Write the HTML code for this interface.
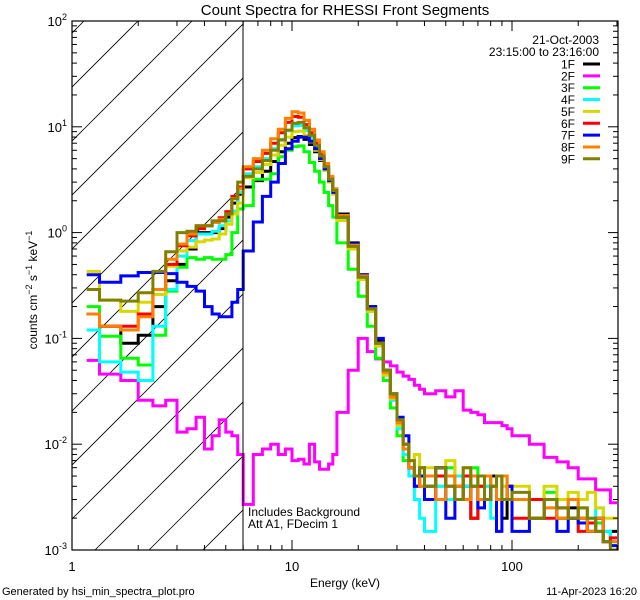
<!DOCTYPE html>
<html><head><meta charset="utf-8">
<style>
html,body{margin:0;padding:0;background:#fff;}
svg{display:block;font-family:"Liberation Sans",sans-serif;}
</style></head>
<body>
<svg id="chart" width="640" height="600" viewBox="0 0 640 600" xmlns="http://www.w3.org/2000/svg">
<defs><clipPath id="plotclip"><rect x="72" y="21" width="546" height="529"/></clipPath>
<clipPath id="hatchclip"><rect x="72" y="21" width="171" height="529"/></clipPath></defs>
<rect x="0" y="0" width="640" height="600" fill="#fff"/>
<text x="345" y="15" font-size="15" text-anchor="middle">Count Spectra for RHESSI Front Segments</text>
<g id="hatch" clip-path="url(#hatchclip)"></g>
<g id="series" clip-path="url(#plotclip)"></g>
<line x1="243" y1="21" x2="243" y2="550" stroke="#000" stroke-width="1"/>
<rect x="72" y="21" width="546" height="529" fill="none" stroke="#000" stroke-width="1.2"/>
<g id="ticks"></g>
<text x="248" y="516" font-size="12">Includes Background</text>
<text x="248" y="528" font-size="12">Att A1, FDecim 1</text>
<text x="345" y="587" font-size="12" text-anchor="middle">Energy (keV)</text>
<text transform="translate(37,290) rotate(-90)" font-size="12" text-anchor="middle">counts cm<tspan dy="-5" font-size="9">−2</tspan><tspan dy="5"> s</tspan><tspan dy="-5" font-size="9">−1</tspan><tspan dy="5"> keV</tspan><tspan dy="-5" font-size="9">−1</tspan></text>
<text x="2" y="595" font-size="11">Generated by hsi_min_spectra_plot.pro</text>
<text x="637" y="595" font-size="11" text-anchor="end">11-Apr-2023 16:20</text>
<text x="599" y="44" font-size="12" text-anchor="end">21-Oct-2003</text>
<text x="599" y="56" font-size="12" text-anchor="end">23:15:00 to 23:16:00</text>
<g id="legend"></g>
</svg>
<script>
const edges = [1,1.333,1.667,2,2.333,2.667,3,3.333,3.667,4,4.333,4.667,5,5.333,5.667,6,
6.667,7.333,8,8.667,9.333,10,10.667,11.333,12,12.667,13.333,14,14.667,15.333,16,
18,20,22,24,26,28,30,32,34,36,38,40,
45,50,55,60,65,70,75,80,85,90,95,100,
120,140,160,180,200,220,240,260,280,300];
const seriesNames = ["1F","2F","3F","4F","5F","6F","7F","8F","9F"];
const s1F = [0.17,0.13,0.09,0.107,0.20,0.35,0.50,0.70,1.0,1.0,1.0,1.09,1.4,1.9,2.3,
2.7,3.1,3.8,4.7,5.8,7.0,7.9,8.1,7.6,6.8,5.8,4.8,3.9,3.1,2.5,
1.5,0.8,0.4,0.2,0.095,0.05,0.028,0.016,0.009,0.006,0.005,0.006,
0.004,0.006,0.003,0.005,0.004,0.002,0.004,0.003,0.005,0.003,0.002,0.004,
0.003,0.002,0.003,0.002,0.0025,0.002,0.0015,0.002,0.0012,0.0015];
const s2F = [0.062,0.046,0.04,0.026,0.023,0.026,0.013,0.014,0.018,0.009,0.012,0.017,0.013,0.012,0.008,
0.0027,0.008,0.009,0.01,0.008,0.009,0.007,0.0072,0.0065,0.01,0.0068,0.0058,0.0058,0.0065,0.008,
0.02,0.05,0.1,0.075,0.064,0.06,0.055,0.048,0.044,0.041,0.036,0.033,
0.030,0.032,0.028,0.032,0.021,0.020,0.019,0.016,0.016,0.016,0.015,0.014,
0.012,0.010,0.0075,0.0068,0.006,0.0047,0.0047,0.0037,0.0037,0.0028];
const s3F = [0.20,0.105,0.065,0.056,0.107,0.28,0.47,0.58,0.56,0.58,0.56,0.56,0.62,1.0,1.67,
1.8,3.2,3.2,3.6,5.2,6.0,6.5,6.6,5.8,4.6,3.8,3.0,2.4,1.8,1.4,
0.8,0.45,0.25,0.13,0.065,0.04,0.022,0.012,0.007,0.006,0.005,0.004,
0.005,0.004,0.006,0.003,0.005,0.006,0.003,0.004,0.004,0.003,0.005,0.003,
0.003,0.002,0.0035,0.002,0.003,0.0025,0.002,0.0018,0.0015,0.0012];
const s4F = [0.12,0.06,0.048,0.040,0.13,0.29,0.60,0.84,0.97,0.97,1.03,1.16,1.29,1.6,2.4,
3.6,4.2,5.0,6.2,7.6,9.2,10.2,10.3,9.2,7.8,6.4,5.1,4.0,3.1,2.4,
1.35,0.72,0.37,0.18,0.085,0.045,0.026,0.014,0.008,0.005,0.003,0.002,
0.0015,0.004,0.003,0.005,0.004,0.005,0.003,0.004,0.002,0.003,0.004,0.003,
0.003,0.002,0.0025,0.003,0.002,0.0015,0.002,0.0025,0.0015,0.0012];
const s5F = [0.43,0.23,0.18,0.22,0.26,0.48,0.67,0.73,0.82,0.85,0.87,0.97,1.2,1.5,1.9,
3.3,3.7,4.4,5.4,6.7,8.0,9.0,9.1,8.3,7.2,6.0,4.9,3.9,3.0,2.3,
1.3,0.7,0.36,0.18,0.085,0.045,0.027,0.015,0.009,0.007,0.008,0.006,
0.006,0.005,0.007,0.004,0.006,0.005,0.004,0.005,0.004,0.005,0.004,0.004,
0.004,0.003,0.004,0.003,0.0035,0.003,0.0035,0.0025,0.002,0.002];
const s6F = [0.17,0.13,0.13,0.17,0.29,0.50,0.75,0.93,1.09,1.16,1.25,1.38,1.58,2.2,2.7,
4.0,4.7,5.6,7.0,8.8,11,12.5,12.3,10.5,8.8,7.0,5.5,4.3,3.3,2.5,
1.4,0.75,0.38,0.19,0.09,0.048,0.028,0.016,0.01,0.006,0.004,0.005,
0.003,0.005,0.004,0.003,0.005,0.002,0.004,0.003,0.004,0.003,0.003,0.004,
0.002,0.003,0.002,0.0025,0.002,0.0015,0.0018,0.0015,0.0012,0.0013];
const s7F = [0.40,0.34,0.39,0.42,0.42,0.41,0.34,0.31,0.28,0.20,0.17,0.16,0.16,0.22,0.29,
0.67,1.26,2.2,3.0,4.5,6.2,7.3,8.0,8.0,7.3,6.2,5.0,4.0,3.1,2.4,
1.4,0.78,0.4,0.2,0.1,0.05,0.03,0.018,0.012,0.006,0.004,0.005,
0.003,0.006,0.002,0.004,0.003,0.004,0.0025,0.003,0.004,0.0015,0.003,0.004,
0.0015,0.002,0.003,0.0015,0.002,0.0018,0.0015,0.002,0.0012,0.0011];
const s8F = [0.17,0.13,0.12,0.16,0.29,0.56,0.78,0.97,1.16,1.16,1.25,1.34,1.5,2.1,2.6,
4.2,5.0,6.0,7.7,9.5,12,13.9,13.5,11.5,9.5,7.5,5.8,4.5,3.4,2.6,
1.45,0.76,0.39,0.19,0.09,0.048,0.028,0.016,0.009,0.006,0.005,0.004,
0.005,0.003,0.005,0.004,0.003,0.005,0.003,0.005,0.004,0.003,0.005,0.003,
0.003,0.002,0.0025,0.002,0.003,0.002,0.0015,0.002,0.0012,0.0012];
const s9F = [0.29,0.23,0.225,0.27,0.43,0.66,1.0,1.03,1.16,1.16,1.29,1.29,1.51,2.09,3.0,
3.4,4.0,4.8,6.0,7.5,9.3,10.8,11,9.8,8.3,6.7,5.3,4.2,3.2,2.5,
1.4,0.74,0.38,0.19,0.09,0.05,0.03,0.017,0.01,0.007,0.005,0.006,
0.004,0.006,0.004,0.003,0.006,0.004,0.005,0.003,0.004,0.005,0.003,0.003,
0.0035,0.002,0.003,0.0025,0.002,0.0025,0.002,0.0015,0.0012,0.001];
const xTickLabels = ["1","10","100"];
const yTickExps = ["2","1","0","-1","-2","-3"];

const seriesData = [s1F,s2F,s3F,s4F,s5F,s6F,s7F,s8F,s9F];
const colors = ["#000000","#ff00ff","#00ff00","#00ffff","#d8d800","#ff0000","#0000ff","#ff8000","#808000"];
const NS = "http://www.w3.org/2000/svg";
const X0 = 72, XR = 618, YT = 21, YB = 550, DEC_X = 220, DEC_Y = (YB - YT) / 5;
function xs(e){ return X0 + DEC_X * Math.log10(e); }
function ys(v){ return YB - DEC_Y * (Math.log10(v) + 3); }
function mk(tag, attrs){ const el = document.createElementNS(NS, tag); for (const k in attrs) el.setAttribute(k, attrs[k]); return el; }

// hatch: lines x = x0 - (y - YT)
const hatch = document.getElementById('hatch');
for (let k = 0; k <= 15; k++) {
  const x0 = 30 + 54 * k;
  const ln = mk('line', {x1: x0, y1: YT, x2: x0 - 560, y2: YT + 560, stroke: '#000', 'stroke-width': 0.8});
  
  
  hatch.appendChild(ln);
}

// series
const sg = document.getElementById('series');
seriesData.forEach((vals, i) => {
  let d = '';
  const c0 = (edges[0] + edges[1]) / 2;
  d += 'M' + xs(c0).toFixed(1) + ' ' + ys(vals[0]).toFixed(1);
  for (let b = 0; b < vals.length; b++) {
    const yv = ys(vals[b]).toFixed(1);
    if (b > 0) d += ' L' + xs(edges[b]).toFixed(1) + ' ' + yv;
    d += ' L' + xs(edges[b + 1]).toFixed(1) + ' ' + yv;
  }
  const p = mk('path', {d: d, fill: 'none', stroke: colors[i], 'stroke-width': 3, 'stroke-linejoin': 'miter'});
  
  
  sg.appendChild(p);
});

// ticks
const tg = document.getElementById('ticks');
for (let dec = 0; dec < 3; dec++) {
  for (let m = 1; m <= 9; m++) {
    const e = m * Math.pow(10, dec);
    if (e > 302) continue;
    const x = xs(e), L = (m === 1) ? 10 : 5;
    const t1 = mk('line', {x1: x, y1: YB, x2: x, y2: YB - L, stroke: '#000', 'stroke-width': 1});
    
    
    tg.appendChild(t1);
    const t2 = mk('line', {x1: x, y1: YT, x2: x, y2: YT + L, stroke: '#000', 'stroke-width': 1});
    
    
    tg.appendChild(t2);
  }
}
xTickLabels.forEach((lab, i) => {
  const t = mk('text', {x: xs(Math.pow(10, i)), y: 571, 'font-size': 13, 'text-anchor': 'middle'});
  t.textContent = lab;
  
  
  tg.appendChild(t);
});
for (let ex = -3; ex < 2; ex++) {
  for (let m = 1; m <= 9; m++) {
    const v = m * Math.pow(10, ex);
    const y = ys(v), L = (m === 1) ? 10 : 5;
    const a = mk('line', {x1: X0, y1: y, x2: X0 + L, y2: y, stroke: '#000', 'stroke-width': 1});
    
    
    tg.appendChild(a);
    const b = mk('line', {x1: XR, y1: y, x2: XR - L, y2: y, stroke: '#000', 'stroke-width': 1});
    
    
    tg.appendChild(b);
  }
}
yTickExps.forEach((ex) => {
  const y = ys(Math.pow(10, Number(ex)));
  const t = mk('text', {x: 67, y: y + 5, 'font-size': 13, 'text-anchor': 'end'});
  const base = document.createElementNS(NS, 'tspan'); base.textContent = '10';
  const sup = document.createElementNS(NS, 'tspan'); sup.setAttribute('dy', '-6'); sup.setAttribute('font-size', '9'); sup.textContent = ex;
  t.appendChild(base); t.appendChild(sup);
  
  
  tg.appendChild(t);
});

// legend
const lg = document.getElementById('legend');
seriesNames.forEach((nm, i) => {
  const y = 64 + i * 11.85;
  const t = mk('text', {x: 575, y: y + 4.5, 'font-size': 12, 'text-anchor': 'end'});
  t.textContent = nm;
  
  
  lg.appendChild(t);
  const l = mk('line', {x1: 583, y1: y, x2: 600, y2: y, stroke: colors[i], 'stroke-width': 3});
  
  
  lg.appendChild(l);
});
</script>
</body></html>
